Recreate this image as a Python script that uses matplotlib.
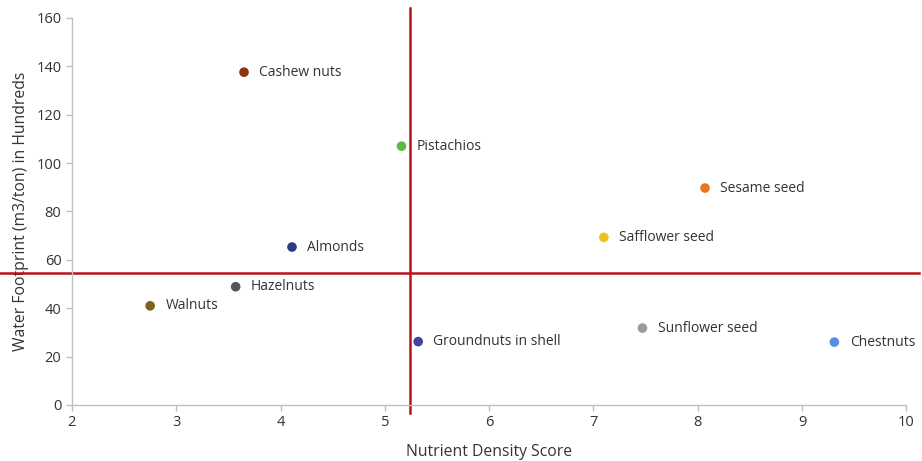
import matplotlib
matplotlib.use("Agg")
import matplotlib.pyplot as plt

names = ["Cashew nuts", "Pistachios", "Sesame seed", "Safflower seed", "Almonds",
         "Hazelnuts", "Walnuts", "Groundnuts in shell", "Sunflower seed", "Chestnuts"]
nutrient = [3.65, 5.16, 8.07, 7.10, 4.11, 3.57, 2.75, 5.32, 7.47, 9.31]
water = [137.6, 107.0, 89.7, 69.3, 65.3, 48.9, 41.0, 26.2, 31.8, 26.0]
colors = ["#8B3512", "#5DBB3F", "#E8771F", "#EFC01E", "#2E3B88",
          "#555555", "#7F6117", "#4343A3", "#9A9A9A", "#5B8DE3"]
x_mid = 5.24
y_mid = 54.5

plt.rcParams['font.family'] = ['Open Sans', 'DejaVu Sans']
text_c = "#333333"

fig = plt.figure(figsize=(9.22, 4.61), dpi=100)
ax = fig.add_axes([0.078, 0.1215, 0.905, 0.8395])

ax.scatter(nutrient, water, s=48, c=colors, zorder=3, linewidths=0)
for n, x, y in zip(names, nutrient, water):
    ax.annotate(n, (x, y), xytext=(11, 0), textcoords="offset points",
                va="center", ha="left", fontsize=10, color=text_c)

ax.plot([1.31, 10.12], [y_mid, y_mid], color="#B8141A", lw=1.8, clip_on=False, zorder=2)
ax.plot([x_mid, x_mid], [-3.3, 164], color="#B8141A", lw=1.8, clip_on=False, zorder=2)

ax.set_xlim(2, 10)
ax.set_ylim(0, 160)
ax.set_xticks(range(2, 11))
ax.set_yticks(range(0, 161, 20))
for s in ["top", "right"]:
    ax.spines[s].set_visible(False)
for s in ["left", "bottom"]:
    ax.spines[s].set_color("#BFBFBF")
    ax.spines[s].set_linewidth(1.0)
ax.tick_params(colors="#BFBFBF", labelcolor=text_c, labelsize=10.5, length=4, width=1)
ax.set_xlabel("Nutrient Density Score", fontsize=11.3, color=text_c, labelpad=10)
ax.set_ylabel("Water Footprint (m3/ton) in Hundreds", fontsize=11.3, color=text_c, labelpad=5)

fig.savefig("out.png", dpi=100)
